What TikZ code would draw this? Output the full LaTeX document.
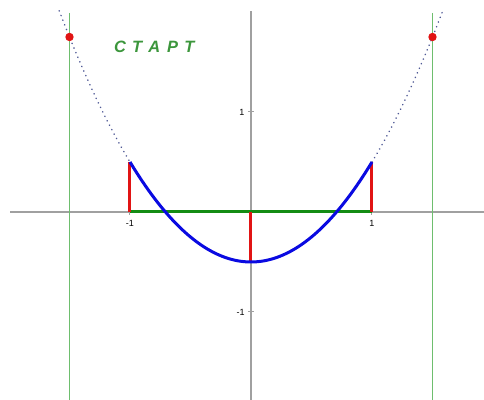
\documentclass[tikz,border=0pt]{standalone}
\usepackage{fontspec}
\newfontfamily\startfont[LetterSpace=42]{Liberation Sans}
\newfontfamily\lblfont{Liberation Sans}
\definecolor{axisgray}{RGB}{160,160,160}
\definecolor{lgreen}{RGB}{110,190,110}
\definecolor{dgreen}{RGB}{20,140,20}
\definecolor{lblgreen}{RGB}{60,150,60}
\definecolor{cblue}{RGB}{10,10,225}
\definecolor{cred}{RGB}{225,20,20}
\definecolor{dotc}{RGB}{80,90,150}
\tikzset{
  axisline/.style={draw=axisgray,line width=0.8pt},
  boundline/.style={draw=lgreen,line width=0.85pt},
  curve/.style={draw=cblue,line width=1.5pt},
  ext/.style={draw=dotc,line width=0.8pt,line cap=round,dash pattern=on 0.1pt off 2.4pt},
  redseg/.style={draw=cred,line width=1.5pt},
  greenseg/.style={draw=dgreen,line width=1.5pt},
  ticklbl/.style={font=\lblfont\fontsize{4.5}{5}\selectfont,inner sep=0.5pt},
  reddot/.style={circle,fill=cred,inner sep=0pt,minimum size=4.2pt}
}
\begin{document}
\begin{tikzpicture}[x=60.5pt,y=50pt]
\useasboundingbox (-2.0744,-1.88) rectangle (1.9256,2.12);
% axes
\coordinate (xl) at (-1.99,0);
\coordinate (xr) at (1.9256,0);
\coordinate (yt) at (0,2.01);
\coordinate (yb) at (0,-1.88);
\draw[axisline] (xl) -- (xr);
\draw[axisline] (yb) -- (yt);
% ticks
\foreach \t in {-1,1}{
  \draw[axisline,line width=0.5pt] (\t,-0.03) -- (\t,0.03);
  \draw[axisline,line width=0.5pt] (-0.025,\t) -- (0.025,\t);
}
\node[ticklbl] (lx1) at (-1,-0.11) {-1};
\node[ticklbl] (lx2) at (1,-0.11) {1};
\node[ticklbl] (ly1) at (-0.075,1) {1};
\node[ticklbl] (ly2) at (-0.085,-1) {-1};
% boundary lines
\coordinate (gl1) at (-1.5,1.99);
\coordinate (gl2) at (-1.5,-1.88);
\coordinate (gr1) at (1.5,1.99);
\coordinate (gr2) at (1.5,-1.88);
\draw[boundline] (gl1) -- (gl2);
\draw[boundline] (gr1) -- (gr2);
% dotted extensions
\draw[ext] plot[domain=-1.585:-1,samples=40] (\x,{\x*\x-0.5});
\draw[ext] plot[domain=1:1.585,samples=40] (\x,{\x*\x-0.5});
% red segments
\coordinate (a0) at (-1,0);
\coordinate (a1) at (-1,0.5);
\coordinate (b0) at (0,0);
\coordinate (b1) at (0,-0.5);
\coordinate (c0) at (1,0);
\coordinate (c1) at (1,0.5);
\draw[greenseg] (a0) -- (c0);
\draw[redseg] (a0) -- (a1);
\draw[redseg] (b0) -- (b1);
\draw[redseg] (c0) -- (c1);
% curve
\draw[curve] plot[domain=-1:1,samples=80] (\x,{\x*\x-0.5});
% dots
\node[reddot] (p1) at (-1.5,1.75) {};
\node[reddot] (p2) at (1.5,1.75) {};
% label
\node[text=lblgreen,font=\startfont\bfseries\itshape\fontsize{8.2}{9}\selectfont] (start) at (-0.80,1.655) {СТАРТ};
\end{tikzpicture}
\end{document}
